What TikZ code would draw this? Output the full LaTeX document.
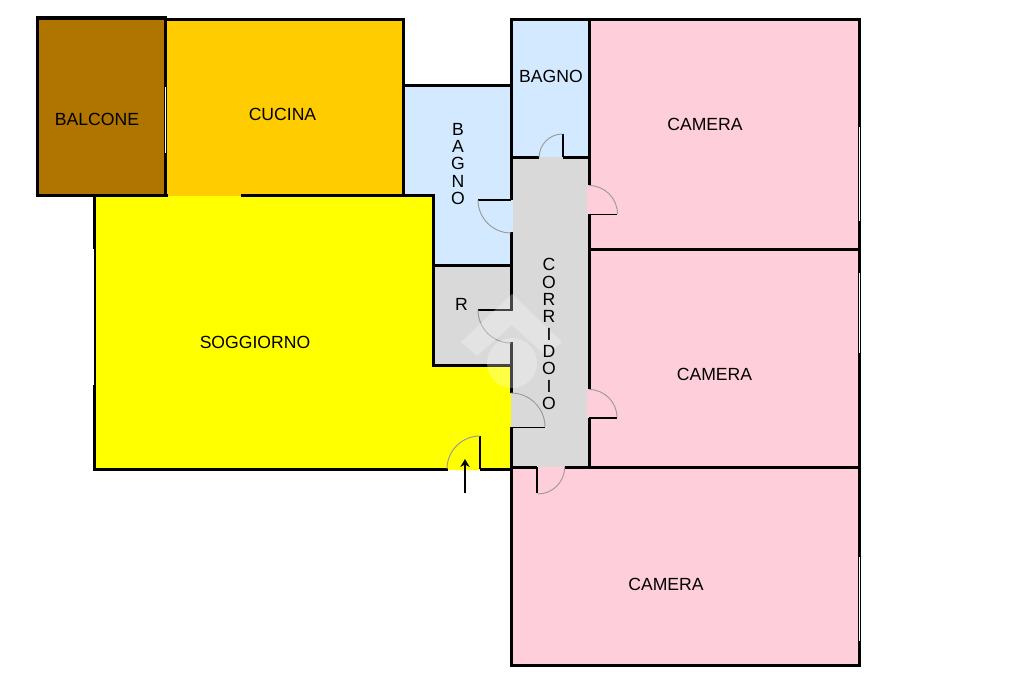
\documentclass[tikz,border=0pt]{standalone}
\usepackage{fontspec}
\setmainfont{Liberation Sans}
\usetikzlibrary{arrows.meta}
\definecolor{balc}{HTML}{B07400}
\definecolor{cuc}{HTML}{FFCC00}
\definecolor{sog}{HTML}{FFFF00}
\definecolor{bag}{HTML}{D2E9FF}
\definecolor{cor}{HTML}{D9D9D9}
\definecolor{cam}{HTML}{FFCEDB}
\definecolor{swing}{HTML}{9A9A9A}
\tikzset{
  x=0.75pt,y=-0.75pt,
  wall/.style={draw=black,line width=2.25pt,line cap=rect,line join=miter},
  heavywall/.style={draw=black,line width=2.4pt,line join=miter},
  leaf/.style={draw=black,line width=1.4pt},
  swingarc/.style={draw=swing,line width=0.7pt},
  slit/.style={draw=white,line width=0.8pt},
  label/.style={inner sep=0pt,font=\fontsize{13.2}{13}\selectfont,text=black},
  stack/.style={label,align=center},
}
\begin{document}
\begin{tikzpicture}
\useasboundingbox (0,0) rectangle (1024,682);
\fill[white] (0,0) rectangle (1024,682);
% room fills
\fill[cuc] (165,19) rectangle (404,196);
\fill[balc] (37,18) rectangle (165,195);
\fill[sog] (94,196) -- (433,196) -- (433,365) -- (511,365) -- (511,470) -- (94,470) -- cycle;
\fill[bag] (404,85) -- (511,85) -- (511,265) -- (433,265) -- (433,195) -- (404,195) -- cycle;
\fill[bag] (511,19) rectangle (589,157);
\fill[cor] (433,265) rectangle (511,365);
\fill[cor] (511,157) rectangle (588,467);
\fill[cam] (588,19) rectangle (859,249);
\fill[cam] (588,249) rectangle (859,467);
\fill[cam] (511,467) rectangle (859,665);
% door swing areas
\fill[bag] (511,200) rectangle (513,232);
\fill[cam] (587,185) rectangle (591,214);
\fill[cam] (587,389) rectangle (591,418);
% walls
\draw[wall] (165.5,19.5) -- (403.5,19.5) -- (403.5,195.5);
\draw[wall] (242.5,195.5) -- (433.5,195.5) -- (433.5,365.5) -- (511.5,365.5);
\draw[wall] (94.5,196.5) -- (94.5,469.5) -- (446.5,469.5);
\draw[wall] (481.5,469.5) -- (511.5,469.5);
\draw[wall] (403.5,85.5) -- (511.5,85.5);
\draw[wall] (433.5,265.5) -- (511.5,265.5);
\draw[wall] (511.5,19.5) -- (859.5,19.5) -- (859.5,665.5) -- (511.5,665.5) -- (511.5,428.5);
\draw[wall] (511.5,19.5) -- (511.5,198.5);
\draw[wall] (511.5,233.5) -- (511.5,309.5);
\draw[wall] (511.5,343.5) -- (511.5,391.5);
\draw[wall] (589.5,19.5) -- (589.5,183.5);
\draw[wall] (589.5,215.5) -- (589.5,387.5);
\draw[wall] (589.5,419.5) -- (589.5,467.5);
\draw[wall] (511.5,157.5) -- (537.5,157.5);
\draw[wall] (564.5,157.5) -- (589.5,157.5);
\draw[wall] (589.5,249.5) -- (859.5,249.5);
\draw[wall] (511.5,467.5) -- (535.5,467.5);
\draw[wall] (566.5,467.5) -- (859.5,467.5);
\draw[heavywall] (37.5,18) rectangle (165.5,195.5);
\draw[heavywall] (165.5,195.5) -- (168,195.5);
% door leaves
\draw[leaf] (478,200) -- (511,200);
\draw[leaf] (478,310) -- (511,310);
\draw[leaf] (511,427.5) -- (544.5,427.5);
\draw[leaf] (562.6,134) -- (562.6,157);
\draw[leaf] (589,214.5) -- (616.5,214.5);
\draw[leaf] (589,418) -- (616.7,418);
\draw[leaf] (537.3,467) -- (537.3,492.5);
\draw[leaf] (480,436) -- (480,469);
% door swings
\draw[swingarc] (478,200) arc[start angle=180,end angle=90,radius=33];
\draw[swingarc] (478,310) arc[start angle=180,end angle=90,radius=33];
\draw[swingarc] (511,393) arc[start angle=-90,end angle=0,radius=34];
\draw[swingarc] (562.6,134) arc[start angle=-90,end angle=-180,radius=23.5];
\draw[swingarc] (589,185.5) arc[start angle=-90,end angle=0,radius=28.5];
\draw[swingarc] (589,389.5) arc[start angle=-90,end angle=0,radius=28];
\draw[swingarc] (564.7,467) arc[start angle=0,end angle=90,radius=27];
\draw[swingarc] (480,436) arc[start angle=-90,end angle=-180,radius=33];
% windows
\draw[slit] (859.5,127) -- (859.5,221);
\draw[slit] (859.5,273) -- (859.5,353);
\draw[slit] (859.5,557) -- (859.5,641);
\draw[slit] (93.8,249) -- (93.8,385);
\draw[slit] (165.7,87) -- (165.7,153);
% entrance arrow
\coordinate (entryfoot) at (465,493);
\coordinate (entryhead) at (465,459);
\draw[black,line width=0.9pt,-{Stealth[length=6pt,width=7pt]}] (entryfoot) -- (entryhead);
% watermark
\fill[white,opacity=0.27] (512,294) -- (562,342) -- (546,356) -- (512,325) -- (477,356) -- (461,342) -- cycle;
\fill[white,opacity=0.27] (512,363) circle[radius=25];
% labels
\node[label] (balcone) at (97,119.5) {BALCONE};
\node[label] (cucina) at (282.5,114.5) {CUCINA};
\node[label] (bagnotop) at (551,76.5) {BAGNO};
\node[label] (cameraone) at (705,124.5) {CAMERA};
\node[label] (cameratwo) at (714.5,374.5) {CAMERA};
\node[label] (camerathree) at (666,584.5) {CAMERA};
\node[label] (soggiorno) at (255,342.5) {SOGGIORNO};
\node[label] (ripost) at (461.5,304) {R};
\node[stack] (bagnovert) at (458,164) {B\\A\\G\\N\\O};
\node[stack] (corridoio) at (549,334) {C\\O\\R\\R\\I\\D\\O\\I\\O};
\end{tikzpicture}
\end{document}
